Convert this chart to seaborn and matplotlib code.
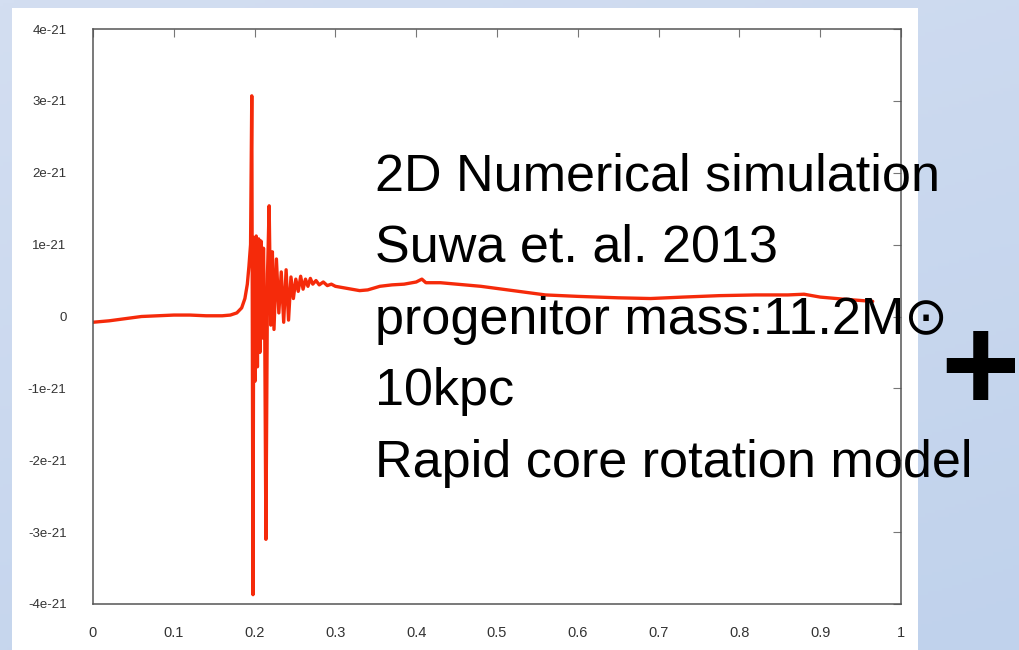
import numpy as np
import pandas as pd
import matplotlib
matplotlib.use("Agg")
import matplotlib.pyplot as plt
import seaborn as sns
from matplotlib.colors import LinearSegmentedColormap

# ---- data (time [s], strain in units of 1e-21) ----
time_s = [0.000, 0.020, 0.040, 0.060, 0.080, 0.100, 0.120, 0.140, 0.160, 0.170,
          0.178, 0.184, 0.188, 0.191, 0.193, 0.195, 0.1965, 0.1980, 0.199, 0.2005,
          0.202, 0.2035, 0.205, 0.2065, 0.208, 0.2095, 0.211, 0.2125, 0.2140, 0.2160,
          0.2180, 0.2200, 0.2220, 0.2240, 0.2270, 0.2300, 0.2330, 0.2360, 0.2390, 0.2420,
          0.2450, 0.2480, 0.2510, 0.2540, 0.2570, 0.2600, 0.2630, 0.2660, 0.2690, 0.2720,
          0.2760, 0.2800, 0.2850, 0.2900, 0.2950, 0.3000, 0.3100, 0.3200, 0.3300, 0.3400,
          0.3550, 0.3700, 0.3850, 0.4000, 0.4070, 0.4120, 0.4300, 0.4600, 0.4800, 0.5200,
          0.5600, 0.6000, 0.6500, 0.6900, 0.7300, 0.7750, 0.8200, 0.8600, 0.8800, 0.9000,
          0.9300, 0.9650]
strain = [-0.08, -0.06, -0.03, 0.00, 0.01, 0.02, 0.02, 0.01, 0.01, 0.02,
          0.05, 0.12, 0.25, 0.45, 0.70, 1.00, 3.07, -3.87, 1.10, -0.90,
          1.12, -0.70, 1.08, -0.50, 1.05, -0.30, 0.95, -0.10, -3.10, 0.60,
          1.54, -0.12, 0.90, -0.18, 0.80, 0.05, 0.62, -0.08, 0.65, -0.05,
          0.55, 0.25, 0.52, 0.35, 0.56, 0.38, 0.52, 0.42, 0.53, 0.45,
          0.50, 0.44, 0.48, 0.43, 0.45, 0.42, 0.40, 0.38, 0.36, 0.37,
          0.42, 0.44, 0.45, 0.48, 0.52, 0.47, 0.47, 0.44, 0.42, 0.36,
          0.30, 0.28, 0.26, 0.25, 0.27, 0.29, 0.30, 0.30, 0.31, 0.27,
          0.24, 0.21]

x_ticks = [0, 0.1, 0.2, 0.3, 0.4, 0.5, 0.6, 0.7, 0.8, 0.9, 1]
x_tick_labels = ["0", "0.1", "0.2", "0.3", "0.4", "0.5", "0.6", "0.7", "0.8", "0.9", "1"]
y_ticks = [4, 3, 2, 1, 0, -1, -2, -3, -4]
y_tick_labels = ["4e-21", "3e-21", "2e-21", "1e-21", "0", "-1e-21", "-2e-21", "-3e-21", "-4e-21"]

annotation_lines = ["2D Numerical simulation",
                    "Suwa et. al. 2013",
                    "progenitor mass:11.2M\u2299",
                    "10kpc",
                    "Rapid core rotation model"]

SCALE = 1e-21
df = pd.DataFrame({"t": time_s, "h": np.array(strain) * SCALE})

sns.set_theme(style="white")
plt.rcParams["font.family"] = ["Liberation Sans", "DejaVu Sans"]

W, H = 1020, 650
fig = plt.figure(figsize=(W / 100, H / 100), dpi=100)

# slide background (soft blue gradient)
bg = fig.add_axes([0, 0, 1, 1], zorder=-10)
gy, gx = np.mgrid[0:1:200j, 0:1:300j]
grad = 0.5 * gy + 0.25 * gx
cmap = LinearSegmentedColormap.from_list("sky", ["#d3def1", "#c0d2ec"])
bg.imshow(grad, cmap=cmap, aspect="auto", extent=[0, 1, 0, 1], origin="upper")
bg.add_patch(plt.Rectangle((12 / W, 0), (918 - 12) / W, 1 - 8 / H,
                           facecolor="white", edgecolor="none"))
bg.set_xlim(0, 1)
bg.set_ylim(0, 1)
bg.axis("off")

left, right = 93 / W, 901 / W
top, bottom = 1 - 29 / H, 1 - 604 / H
ax = fig.add_axes([left, bottom, right - left, top - bottom])
ax.set_facecolor("none")

sns.lineplot(data=df, x="t", y="h", ax=ax, color="#f52a0a", linewidth=2.4,
             sort=False, estimator=None)

ax.set_xlim(0, 1)
ax.set_ylim(-4 * SCALE, 4 * SCALE)
ax.set_xticks(x_ticks)
ax.set_xticklabels(x_tick_labels)
ax.set_yticks([v * SCALE for v in y_ticks])
ax.set_yticklabels(y_tick_labels)
ax.set_xlabel("")
ax.set_ylabel("")

for s in ax.spines.values():
    s.set_color("#555555")
    s.set_linewidth(1.1)
    s.set_visible(True)
ax.tick_params(axis="both", direction="in", length=6, width=0.8, color="#777777",
               top=True, right=True, labelcolor="#333333")
ax.tick_params(axis="y", pad=19, labelsize=9.5)
ax.tick_params(axis="x", pad=16, labelsize=10.5)
ax.grid(False)

# annotation text block (baselines)
for i, line in enumerate(annotation_lines):
    fig.text(375 / W, 1 - (190 + 71.8 * i) / H, line, ha="left", va="baseline",
             fontsize=37.5, color="black",
             family=["Liberation Sans", "DejaVu Sans"])

# big plus sign on the slide
fig.text(980 / W, 1 - 376 / H, "+", ha="center", va="center", fontsize=98,
         fontweight="bold", color="black", family=["Liberation Sans"])

fig.savefig("out.png", dpi=100)
